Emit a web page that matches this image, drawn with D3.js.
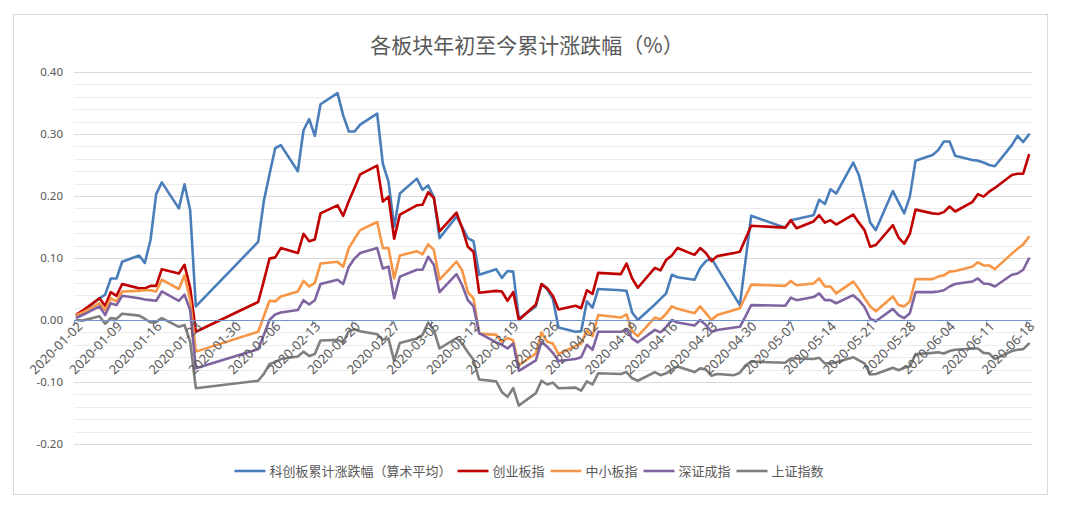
<!DOCTYPE html>
<html><head><meta charset="utf-8">
<script src="https://cdn.jsdelivr.net/npm/d3@7"></script>
<style>body{margin:0;background:#fff;} svg{display:block;}</style>
</head><body><svg id="chart" width="1067" height="510"></svg>
<script>
const dates = [
"2020-01-02","2020-01-03","2020-01-06","2020-01-07","2020-01-08","2020-01-09","2020-01-10","2020-01-13","2020-01-14","2020-01-15","2020-01-16","2020-01-17","2020-01-20","2020-01-21","2020-01-22","2020-01-23",
"2020-02-03","2020-02-04","2020-02-05","2020-02-06","2020-02-07","2020-02-10","2020-02-11","2020-02-12","2020-02-13","2020-02-14","2020-02-17","2020-02-18","2020-02-19","2020-02-20","2020-02-21","2020-02-24","2020-02-25","2020-02-26","2020-02-27","2020-02-28",
"2020-03-02","2020-03-03","2020-03-04","2020-03-05","2020-03-06","2020-03-09","2020-03-10","2020-03-11","2020-03-12","2020-03-13","2020-03-16","2020-03-17","2020-03-18","2020-03-19","2020-03-20","2020-03-23","2020-03-24","2020-03-25","2020-03-26","2020-03-27","2020-03-30","2020-03-31",
"2020-04-01","2020-04-02","2020-04-03","2020-04-07","2020-04-08","2020-04-09","2020-04-10","2020-04-13","2020-04-14","2020-04-15","2020-04-16","2020-04-17","2020-04-20","2020-04-21","2020-04-22","2020-04-23","2020-04-24","2020-04-27","2020-04-28","2020-04-29","2020-04-30",
"2020-05-06","2020-05-07","2020-05-08","2020-05-11","2020-05-12","2020-05-13","2020-05-14","2020-05-15","2020-05-18","2020-05-19","2020-05-20","2020-05-21","2020-05-22","2020-05-25","2020-05-26","2020-05-27","2020-05-28","2020-05-29",
"2020-06-01","2020-06-02","2020-06-03","2020-06-04","2020-06-05","2020-06-08","2020-06-09","2020-06-10","2020-06-11","2020-06-12","2020-06-15","2020-06-16","2020-06-17","2020-06-18"];

const kcb = [
0.008,0.013,0.035,0.041,0.067,0.067,0.094,0.104,0.092,0.129,0.203,0.222,0.180,0.219,0.177,0.022,
0.126,0.192,0.235,0.277,0.282,0.240,0.306,0.324,0.297,0.348,0.366,0.330,0.304,0.304,0.315,0.333,0.252,0.223,0.150,0.204,
0.228,0.210,0.217,0.198,0.132,0.167,0.150,0.132,0.127,0.073,0.082,0.068,0.079,0.078,0.002,0.022,0.058,0.050,0.034,-0.012,-0.019,-0.018,
0.030,0.020,0.050,0.048,0.047,0.012,0.000,0.025,0.034,0.043,0.073,0.069,0.065,0.084,0.095,0.099,null,null,0.024,null,0.168,
0.149,0.161,null,0.169,0.194,0.187,0.211,0.204,0.254,0.234,0.196,0.157,0.145,0.208,0.190,0.172,0.199,0.257,
0.266,0.274,0.288,0.288,0.265,0.258,0.257,0.254,0.250,0.248,0.282,0.297,0.287,0.299];

const cyb = [
0.009,0.015,0.035,0.023,0.045,0.039,0.058,0.051,0.051,0.055,0.055,0.082,0.075,0.089,0.052,-0.019,
0.029,0.063,0.099,0.101,0.116,0.108,0.139,0.127,0.130,0.172,0.185,0.168,0.192,0.213,0.235,0.249,0.191,0.199,0.131,0.170,
0.185,0.186,0.206,0.197,0.143,0.173,0.148,0.118,0.110,0.044,0.047,0.046,0.031,0.045,0.000,0.025,0.058,0.051,0.039,0.017,0.023,0.019,
0.048,0.042,0.076,0.074,0.091,0.067,0.052,0.084,0.080,0.097,0.104,0.116,0.105,0.116,0.108,0.095,0.103,0.108,0.110,0.131,0.152,
0.149,0.161,0.148,0.159,0.169,0.157,0.161,0.154,0.170,0.157,0.145,0.118,0.121,0.153,0.133,0.123,0.139,0.178,
0.172,0.171,0.174,0.183,0.175,0.190,0.203,0.199,0.207,0.213,0.234,0.236,0.236,0.266];

const zxb = [
0.008,0.012,0.027,0.016,0.035,0.030,0.046,0.047,0.048,0.048,0.046,0.065,0.050,0.072,0.032,-0.051,
-0.019,0.006,0.031,0.030,0.038,0.046,0.063,0.054,0.060,0.091,0.094,0.086,0.116,0.131,0.145,0.158,0.116,0.116,0.067,0.104,
0.111,0.106,0.122,0.113,0.065,0.094,0.080,0.045,0.035,-0.022,-0.024,-0.035,-0.029,-0.033,-0.073,-0.054,-0.020,-0.035,-0.038,-0.055,-0.042,-0.038,
-0.017,-0.026,0.008,0.004,0.009,-0.018,-0.026,0.004,0.001,0.010,0.022,0.018,0.011,0.022,0.011,0.000,0.008,0.016,0.019,0.038,0.057,
0.055,0.063,0.056,0.059,0.067,0.054,0.054,0.043,0.062,0.050,0.035,0.022,0.014,0.038,0.024,0.022,0.030,0.066,
0.066,0.070,0.072,0.078,0.079,0.086,0.093,0.088,0.088,0.082,0.107,0.115,0.122,0.134];

const szcz = [
0.004,0.008,0.022,0.008,0.027,0.024,0.039,0.035,0.033,0.032,0.031,0.046,0.031,0.041,0.016,-0.078,
-0.047,-0.024,0.000,0.009,0.012,0.016,0.032,0.025,0.032,0.058,0.065,0.058,0.086,0.099,0.108,0.116,0.083,0.086,0.035,0.070,
0.081,0.081,0.102,0.089,0.045,0.074,0.056,0.032,0.022,-0.021,-0.036,-0.040,-0.046,-0.038,-0.082,-0.065,-0.035,-0.043,-0.053,-0.066,-0.063,-0.060,
-0.040,-0.048,-0.019,-0.019,-0.016,-0.030,-0.036,-0.016,-0.020,-0.011,0.000,-0.004,-0.009,0.000,-0.008,-0.019,-0.016,-0.012,-0.011,0.006,0.024,
0.023,0.036,0.032,0.037,0.043,0.032,0.032,0.027,0.040,0.032,0.021,0.002,-0.002,0.018,0.008,0.003,0.011,0.045,
0.045,0.046,0.048,0.054,0.058,0.062,0.067,0.059,0.058,0.054,0.073,0.075,0.081,0.099];

const szzs = [
0.000,-0.001,0.006,-0.006,0.003,0.002,0.010,0.007,0.002,-0.004,-0.003,0.003,-0.011,-0.008,-0.035,-0.110,
-0.098,-0.087,-0.071,-0.068,-0.063,-0.059,-0.051,-0.058,-0.055,-0.033,-0.032,-0.036,-0.018,-0.015,-0.018,-0.023,-0.032,-0.030,-0.066,-0.037,
-0.030,-0.024,-0.004,-0.016,-0.046,-0.029,-0.038,-0.052,-0.064,-0.096,-0.099,-0.116,-0.124,-0.110,-0.138,-0.118,-0.098,-0.104,-0.101,-0.110,-0.109,-0.114,
-0.099,-0.104,-0.086,-0.087,-0.084,-0.094,-0.098,-0.084,-0.089,-0.086,-0.080,-0.075,-0.084,-0.078,-0.080,-0.090,-0.087,-0.089,-0.085,-0.073,-0.067,
-0.069,-0.062,-0.062,-0.063,-0.061,-0.070,-0.070,-0.068,-0.060,-0.065,-0.070,-0.088,-0.087,-0.077,-0.081,-0.077,-0.075,-0.055,
-0.053,-0.052,-0.054,-0.050,-0.048,-0.046,-0.046,-0.053,-0.054,-0.063,-0.050,-0.048,-0.047,-0.038];

const seriesNames = ["科创板累计涨跌幅（算术平均）","创业板指","中小板指","深证成指","上证指数"];
const seriesValues = [kcb, cyb, zxb, szcz, szzs];
const seriesColors = ["#4a7ebb","#c00000","#f79646","#8064a2","#7f7f7f"];

const tickLabels = ["2020-01-02","2020-01-09","2020-01-16","2020-01-23","2020-01-30","2020-02-06","2020-02-13","2020-02-20","2020-02-27","2020-03-05","2020-03-12","2020-03-19","2020-03-26","2020-04-02","2020-04-09","2020-04-16","2020-04-23","2020-04-30","2020-05-07","2020-05-14","2020-05-21","2020-05-28","2020-06-04","2020-06-11","2020-06-18"];
const yTicks = [-0.2,-0.1,0,0.1,0.2,0.3,0.4];
const yMinorStep = 0.02;
const title = "各板块年初至今累计涨跌幅（%）";

const svg = d3.select("#chart");
const parse = d3.utcParse("%Y-%m-%d");
const DAY = 86400000;
const half = DAY / 2;

const x = d3.scaleUtc()
  .domain([parse(dates[0]), new Date(+parse(dates[dates.length - 1]) + DAY)])
  .range([74, 1031.7]);
const y = d3.scaleLinear().domain([-0.2, 0.4]).range([444, 72]);
const [x0, x1] = x.range();

// chart frame
svg.append("rect").attr("x", 13.5).attr("y", 14.5).attr("width", 1034).attr("height", 480)
  .attr("fill", "#fff").attr("stroke", "#d9d9d9").attr("stroke-width", 1);

// minor grid
const minorVals = d3.range(Math.round(-0.2 / yMinorStep), Math.round(0.4 / yMinorStep) + 1).map(i => +(i * yMinorStep).toFixed(3));
svg.append("g").selectAll("line").data(minorVals.filter(v => !yTicks.some(t => Math.abs(t - v) < 1e-9)))
  .join("line")
  .attr("x1", x0).attr("x2", x1)
  .attr("y1", d => Math.round(y(d)) + 0.5).attr("y2", d => Math.round(y(d)) + 0.5)
  .attr("stroke", "#ebebeb").attr("stroke-width", 1);

// major grid
svg.append("g").selectAll("line").data(yTicks.filter(t => t !== 0))
  .join("line")
  .attr("x1", x0).attr("x2", x1)
  .attr("y1", d => Math.round(y(d)) + 0.5).attr("y2", d => Math.round(y(d)) + 0.5)
  .attr("stroke", "#d9d9d9").attr("stroke-width", 1);

// y axis labels
const yAxis = svg.append("g").attr("transform", `translate(${x0},0)`)
  .call(d3.axisLeft(y).tickValues(yTicks).tickFormat(d => d.toFixed(2)).tickSize(0).tickPadding(11));
yAxis.select(".domain").remove();
yAxis.selectAll("text").attr("font-family", "'Noto Sans', 'DejaVu Sans', sans-serif")
  .attr("font-size", 11.5).attr("fill", "#595959");

// lines
const line = d3.line()
  .x(d => x(new Date(+d.date + half)))
  .y(d => y(d.v));
seriesValues.forEach((vals, i) => {
  const pts = dates.map((ds, j) => ({ date: parse(ds), v: vals[j] })).filter(d => d.v !== null);
  svg.append("path").datum(pts)
    .attr("fill", "none").attr("stroke", seriesColors[i]).attr("stroke-width", 2.6)
    .attr("stroke-linejoin", "round").attr("stroke-linecap", "round")
    .attr("d", line);
});

// x axis at zero
const tickDates = tickLabels.map(parse);
const xAxis = svg.append("g").attr("transform", `translate(0,${Math.round(y(0)) + 0.5})`)
  .call(d3.axisBottom(x).tickValues(tickDates).tickSize(5).tickFormat(""));
xAxis.select(".domain").attr("stroke", "#6f93c8").attr("d", `M${x0},0H${x1}`);
xAxis.selectAll(".tick line").attr("stroke", "#6f93c8");

svg.append("g").selectAll("text").data(tickDates)
  .join("text")
  .attr("transform", d => `translate(${x(d) + 6},${y(0) + 4}) rotate(-45)`)
  .attr("text-anchor", "end").attr("dy", "0.35em")
  .attr("font-family", "'Noto Sans', 'DejaVu Sans', sans-serif")
  .attr("font-size", 13).attr("fill", "#595959")
  .text((d, i) => tickLabels[i]);

// title
svg.append("text").attr("x", 527).attr("y", 53).attr("text-anchor", "middle")
  .attr("font-family", "'Noto Sans CJK SC', sans-serif").attr("font-size", 21)
  .attr("fill", "#595959").text(title);

// legend
const lg = svg.append("g");
let cx = 0;
seriesNames.forEach((name, i) => {
  const g = lg.append("g").attr("transform", `translate(${cx},0)`);
  g.append("line").attr("x1", 0).attr("x2", 31).attr("y1", 0).attr("y2", 0)
    .attr("stroke", seriesColors[i]).attr("stroke-width", 2.6);
  const t = g.append("text").attr("x", 35).attr("y", 0).attr("dy", "0.35em")
    .attr("font-family", "'Noto Sans CJK SC', sans-serif").attr("font-size", 13)
    .attr("fill", "#595959").text(name);
  cx += 35 + t.node().getComputedTextLength() + 6;
});
const totalW = cx - 6;
lg.attr("transform", `translate(${529 - totalW / 2},471)`);
</script>
</body></html>
